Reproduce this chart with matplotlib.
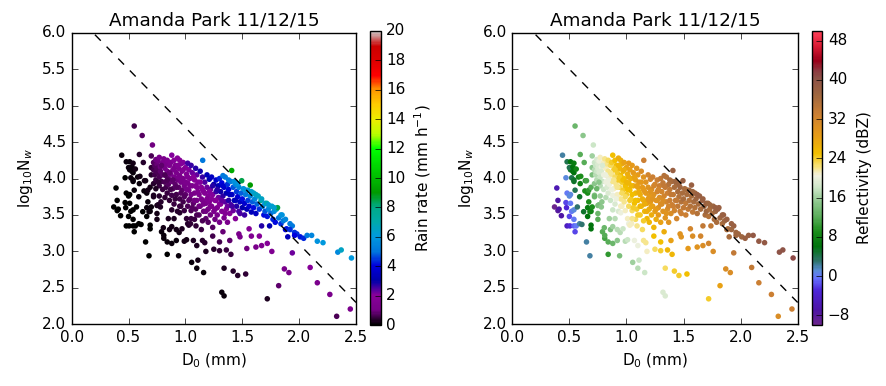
"""
Nw - D0 scatter, coloured by rain rate and reflectivity
"""

import matplotlib

matplotlib.use("Agg")
import matplotlib.pyplot as plt
from matplotlib.colors import LinearSegmentedColormap

# 数据：每个点 D0 (mm), log10 Nw, 雨强 (mm/h), 反射率 (dBZ)
d0 = [
    0.37, 0.40, 0.40, 0.39, 0.43, 0.41, 0.44, 0.47, 0.48, 0.48, 0.47, 0.48, 0.475, 0.50, 0.50, 0.505, 0.51, 0.51, 0.51, 0.51, 0.50,
    0.52, 0.52, 0.53, 0.53, 0.54, 0.54, 0.54, 0.54, 0.54, 0.54, 0.54, 0.55, 0.55, 0.55, 0.56, 0.56, 0.57, 0.58, 0.59, 0.59, 0.595, 0.595, 0.60, 0.61,
    0.62, 0.63, 0.625, 0.636, 0.64, 0.65, 0.65, 0.66, 0.66, 0.66, 0.67, 0.67, 0.68, 0.68, 0.69, 0.69, 0.69, 0.69, 0.70, 0.70, 0.70, 0.70, 0.71,
    0.72, 0.72, 0.72, 0.72, 0.72, 0.73, 0.73, 0.74, 0.74, 0.74, 0.75, 0.75, 0.75, 0.75, 0.75, 0.76, 0.76, 0.76, 0.77, 0.77, 0.77, 0.77, 0.78, 0.78, 0.785, 0.78, 0.79, 0.79, 0.80, 0.80, 0.80, 0.81, 0.81, 0.806,
    0.81, 0.82, 0.82, 0.82, 0.83, 0.83, 0.83, 0.84, 0.84, 0.84, 0.84, 0.84, 0.85, 0.85, 0.85, 0.86, 0.86, 0.86, 0.87, 0.87, 0.88, 0.88, 0.88, 0.88, 0.88, 0.88, 0.89, 0.89, 0.90, 0.90, 0.90,
    0.91, 0.91, 0.92, 0.92, 0.92, 0.92, 0.93, 0.93, 0.93, 0.94, 0.94, 0.945, 0.94, 0.95, 0.95, 0.95, 0.95, 0.96, 0.96, 0.96, 0.97, 0.97, 0.97, 0.98, 0.98, 0.98, 0.99, 0.99, 0.99, 1.00, 1.00,
    1.01, 1.01, 1.01, 1.02, 1.02, 1.02, 1.02, 1.03, 1.03, 1.03, 1.04, 1.045, 1.04, 1.05, 1.05, 1.055, 1.06, 1.06, 1.07, 1.07, 1.08, 1.08, 1.08, 1.09, 1.093, 1.09, 1.10, 1.10, 1.10, 1.10, 1.10,
    1.11, 1.11, 1.12, 1.12, 1.13, 1.13, 1.14, 1.14, 1.15, 1.15, 1.15, 1.152, 1.16, 1.16, 1.16, 1.17, 1.17, 1.18, 1.18, 1.18, 1.19, 1.19, 1.20, 1.20,
    1.21, 1.21, 1.22, 1.22, 1.23, 1.23, 1.24, 1.24, 1.24, 1.25, 1.25, 1.25, 1.26, 1.26, 1.27, 1.27, 1.28, 1.28, 1.29, 1.29, 1.30, 1.30, 1.30, 1.30,
    1.31, 1.31, 1.32, 1.32, 1.32, 1.33, 1.33, 1.34, 1.34, 1.34, 1.34, 1.35, 1.35, 1.36, 1.36, 1.36, 1.37, 1.37, 1.38, 1.38, 1.39, 1.39, 1.40, 1.40, 1.40,
    1.407, 1.41, 1.42, 1.42, 1.42, 1.43, 1.44, 1.44, 1.45, 1.45, 1.46, 1.46, 1.47, 1.47, 1.48, 1.48, 1.48, 1.49, 1.495, 1.50, 1.50,
    1.51, 1.52, 1.52, 1.53, 1.53, 1.54, 1.54, 1.55, 1.55, 1.56, 1.56, 1.57, 1.57, 1.58, 1.58, 1.59, 1.60, 1.60,
    1.61, 1.62, 1.62, 1.63, 1.64, 1.65, 1.65, 1.665, 1.67, 1.67, 1.68, 1.69, 1.70, 1.70,
    1.715, 1.72, 1.72, 1.72, 1.73, 1.74, 1.75, 1.76, 1.76, 1.77, 1.78, 1.79, 1.80, 1.81, 1.82, 1.82,
    1.84, 1.85, 1.86, 1.87, 1.88, 1.89, 1.90, 1.91, 1.92, 1.94, 1.94, 1.96, 1.98, 2.01, 2.04, 2.07, 2.097, 2.11, 2.16, 2.16, 2.21, 2.27, 2.33, 2.34, 2.37, 2.45, 2.46,
    1.33, 1.38, 1.43, 1.46, 1.52, 1.58, 1.62, 1.67, 1.73, 1.78, 1.84, 1.88, 1.92, 1.96,
    0.74, 0.76, 0.79, 0.82, 0.84, 0.86, 0.87, 0.89, 0.90, 0.91, 0.92, 0.93, 0.94, 0.96, 0.97, 0.98, 0.99, 1.00, 1.01, 1.02,
    1.03, 1.04, 1.05, 1.06, 1.07, 1.08, 1.09, 1.11, 1.12, 1.13, 1.14, 1.15, 1.16, 1.17, 1.18, 1.19, 1.21, 1.22, 1.23, 1.24,
    1.26, 1.27, 1.28, 1.30, 1.32, 1.33, 1.35, 1.37, 1.39, 1.41, 1.44, 1.47, 1.10, 1.05, 0.95, 0.90, 1.20, 1.15,
]
log_nw = [
    3.61, 3.70, 3.56, 3.87, 3.49, 3.58, 4.32, 4.01, 3.80, 4.23, 3.67, 3.35, 3.60, 3.76, 3.48, 3.35, 4.23, 3.78, 4.12, 3.66, 4.15,
    4.01, 3.55, 4.16, 4.10, 4.21, 4.08, 3.96, 3.44, 3.35, 3.57, 3.98, 3.84, 3.27, 4.72, 4.13, 3.35, 3.61, 4.02, 3.75, 3.38, 4.33, 3.93, 4.03, 3.37,
    4.59, 4.22, 3.545, 3.83, 3.97, 3.97, 3.13, 3.80, 3.60, 3.48, 3.68, 3.84, 3.545, 2.94, 3.88, 3.55, 3.31, 3.36, 3.61, 4.31, 4.15, 4.05, 4.46,
    4.22, 4.12, 3.93, 3.77, 3.75, 4.18, 4.05, 4.26, 4.10, 3.98, 4.20, 4.14, 3.63, 3.52, 3.44, 4.08, 3.64, 4.24, 3.76, 4.29, 4.02, 3.90, 4.16, 3.61, 3.68, 4.10, 3.27, 3.96, 4.22, 4.05, 3.85, 3.18, 3.22, 3.325,
    4.27, 4.14, 3.74, 3.95, 4.20, 4.04, 3.88, 4.25, 2.96, 3.13, 4.10, 3.80, 3.45, 4.00, 3.92, 4.18, 3.30, 3.70, 4.06, 4.22, 4.32, 3.77, 3.57, 3.34, 3.11, 3.96, 4.12, 3.86, 4.02, 4.25, 3.65,
    4.18, 3.92, 3.15, 3.30, 4.08, 3.78, 4.28, 3.98, 3.55, 4.14, 2.94, 3.26, 3.88, 4.25, 3.53, 4.04, 3.72, 4.20, 3.95, 3.62, 3.31, 4.10, 3.84, 4.22, 4.00, 3.68, 3.14, 3.90, 3.56, 4.15, 3.78,
    3.16, 3.45, 4.06, 3.38, 4.21, 3.94, 3.62, 3.36, 4.12, 3.84, 3.72, 3.38, 4.00, 4.18, 3.56, 2.85, 3.90, 4.08, 3.15, 3.66, 3.44, 3.98, 3.80, 4.14, 3.35, 3.58, 2.77, 3.08, 4.05, 3.88, 3.70,
    2.88, 3.95, 3.50, 3.78, 4.10, 3.62, 3.30, 3.88, 3.15, 4.02, 3.70, 4.25, 2.71, 3.55, 3.82, 3.12, 3.95, 3.00, 3.66, 3.45, 3.88, 4.05, 3.76, 3.58,
    3.99, 3.68, 3.50, 3.85, 4.02, 3.62, 3.33, 3.21, 3.78, 3.03, 3.92, 3.55, 3.70, 3.44, 3.98, 3.82, 3.60, 3.50, 3.90, 3.74, 3.13, 3.01, 4.00, 3.40,
    3.65, 3.82, 2.44, 3.94, 3.55, 3.27, 3.76, 2.39, 2.77, 3.88, 3.46, 3.68, 4.02, 3.02, 3.58, 3.80, 3.92, 3.40, 3.70, 3.85, 3.15, 3.52, 2.96, 3.96, 3.64,
    4.11, 3.78, 2.73, 3.88, 3.56, 3.70, 3.92, 3.45, 3.82, 3.62, 2.67, 3.75, 3.24, 3.88, 3.20, 3.52, 3.68, 3.80, 3.97, 3.60, 3.72,
    3.86, 3.66, 3.50, 2.69, 3.78, 3.04, 3.58, 3.84, 3.70, 3.31, 3.62, 3.91, 3.76, 3.21, 3.54, 3.68, 3.80, 3.60,
    3.72, 3.06, 3.52, 3.65, 3.76, 3.21, 3.58, 3.70, 3.08, 3.35, 3.62, 3.50, 3.66, 3.55,
    3.66, 3.11, 2.35, 3.48, 3.58, 3.35, 3.52, 3.00, 3.62, 3.44, 3.55, 3.40, 3.58, 3.60, 2.53, 3.46,
    3.38, 3.50, 3.42, 2.76, 3.30, 3.31, 3.20, 2.71, 3.38, 2.98, 3.35, 3.26, 3.24, 3.20, 3.18, 3.22, 2.78, 3.22, 3.14, 2.57, 3.12, 2.41, 2.11, 2.99, 3.02, 2.21, 2.91,
    4.04, 3.98, 3.96, 3.93, 3.85, 3.82, 3.78, 3.72, 3.64, 3.60, 3.50, 3.44, 3.30, 3.22,
    3.86, 3.95, 4.18, 4.05, 3.98, 4.08, 3.85, 3.98, 4.14, 3.72, 3.88, 4.18, 4.02, 3.80, 3.98, 4.12, 3.75, 3.95, 3.85, 4.02,
    3.70, 3.90, 3.78, 3.60, 4.02, 3.70, 3.90, 3.82, 3.62, 3.95, 3.72, 3.85, 3.65, 3.80, 3.55, 3.72, 3.82, 3.62, 3.72, 3.90,
    3.58, 3.70, 3.85, 3.65, 3.70, 3.90, 3.52, 3.62, 3.78, 3.62, 3.70, 3.55, 3.50, 3.45, 3.62, 3.45, 3.40, 3.42,
]
rain_rate = [
    0.01, 0.02, 0.01, 0.02, 0.01, 0.01, 0.09, 0.06, 0.04, 0.11, 0.03, 0.01, 0.03, 0.04, 0.02, 0.02, 0.14, 0.05, 0.11, 0.04, 0.11,
    0.09, 0.03, 0.14, 0.12, 0.17, 0.13, 0.10, 0.03, 0.02, 0.04, 0.10, 0.08, 0.02, 0.60, 0.17, 0.03, 0.05, 0.15, 0.09, 0.04, 0.34, 0.13, 0.18, 0.04,
    0.74, 0.32, 0.07, 0.14, 0.20, 0.21, 0.03, 0.15, 0.10, 0.07, 0.13, 0.18, 0.10, 0.02, 0.22, 0.10, 0.06, 0.06, 0.13, 0.65, 0.45, 0.35, 0.98,
    0.77, 0.61, 0.39, 0.27, 0.26, 0.75, 0.56, 0.94, 0.65, 0.49, 0.88, 0.77, 0.23, 0.18, 0.16, 0.70, 0.25, 1.01, 0.35, 1.18, 0.64, 0.48, 0.94, 0.26, 0.33, 0.82, 0.13, 0.62, 1.18, 0.81, 0.51, 0.12, 0.13, 0.16,
    1.32, 1.02, 0.41, 0.66, 1.20, 0.85, 0.59, 1.44, 0.07, 0.11, 1.02, 0.52, 0.24, 0.85, 0.71, 1.34, 0.18, 0.44, 1.09, 1.56, 2.04, 0.59, 0.37, 0.22, 0.13, 0.91, 1.38, 0.76, 1.14, 1.92, 0.49,
    1.45, 0.79, 0.14, 0.20, 1.20, 0.60, 2.00, 1.00, 0.37, 1.50, 0.10, 0.20, 0.83, 2.00, 0.39, 1.26, 0.60, 1.90, 1.07, 0.50, 0.25, 1.55, 0.85, 2.10, 1.30, 0.62, 0.19, 1.07, 0.49, 2.00, 0.85,
    0.21, 0.42, 1.70, 0.37, 2.50, 1.35, 0.65, 0.36, 2.10, 1.10, 0.87, 0.41, 1.66, 2.60, 0.63, 0.13, 1.45, 2.20, 0.26, 0.85, 0.54, 1.86, 1.23, 2.80, 0.46, 0.78, 0.12, 0.25, 2.30, 1.60, 1.05,
    0.17, 1.95, 0.72, 1.38, 2.95, 0.98, 0.49, 1.86, 0.35, 2.60, 1.26, 5.00, 0.13, 0.93, 1.74, 0.36, 2.45, 0.28, 1.29, 0.79, 2.20, 3.30, 1.74, 1.15,
    3.10, 1.50, 1.00, 2.30, 3.50, 1.40, 0.74, 0.56, 2.10, 0.39, 3.00, 1.30, 1.86, 1.00, 3.70, 2.60, 1.60, 1.26, 3.20, 2.20, 0.58, 0.44, 4.30, 1.07,
    1.95, 2.90, 0.13, 4.00, 1.60, 0.87, 2.70, 0.12, 0.28, 3.60, 1.38, 2.40, 5.20, 0.54, 1.95, 3.20, 4.40, 1.30, 2.75, 3.90, 0.79, 1.86, 0.52, 5.20, 2.50,
    9.50, 3.60, 0.33, 4.70, 2.20, 3.20, 5.50, 1.86, 4.50, 2.80, 0.32, 3.90, 1.23, 5.40, 1.17, 2.45, 3.50, 4.80, 8.50, 3.10, 4.10,
    5.80, 3.70, 2.60, 0.42, 5.10, 0.95, 3.30, 6.20, 4.50, 1.86, 3.80, 9.00, 5.40, 1.55, 3.30, 4.80, 6.50, 4.10,
    5.50, 1.23, 3.50, 4.90, 6.50, 1.86, 4.40, 7.50, 1.48, 2.75, 5.20, 4.10, 6.00, 4.70,
    7.00, 1.80, 0.31, 4.20, 5.40, 3.20, 4.90, 1.50, 6.30, 4.30, 5.60, 4.10, 6.30, 8.50, 0.80, 5.00,
    4.40, 5.90, 5.00, 1.10, 4.00, 4.20, 3.30, 1.10, 5.20, 2.20, 5.10, 4.40, 4.40, 4.20, 4.30, 5.00, 1.90, 5.40, 5.80, 1.30, 6.00, 1.15, 0.63, 5.50, 6.50, 1.30, 6.00,
    5.10, 5.20, 5.80, 5.90, 5.80, 6.30, 6.50, 6.50, 6.20, 6.30, 5.80, 5.50, 4.40, 4.00,
    0.29, 0.40, 0.79, 0.69, 0.65, 0.89, 0.56, 0.83, 1.26, 0.50, 0.76, 1.58, 1.15, 0.76, 1.17, 1.70, 0.76, 1.26, 1.05, 1.60,
    0.79, 1.30, 1.05, 0.72, 1.95, 0.98, 1.60, 1.45, 0.95, 2.10, 1.30, 1.80, 1.17, 1.74, 1.00, 1.55, 2.10, 1.35, 1.80, 2.75,
    1.40, 1.95, 2.80, 1.90, 2.30, 3.70, 1.66, 2.20, 3.40, 2.50, 3.30, 2.50, 0.66, 0.49, 0.48, 0.26, 0.76, 0.66,
]
dbz = [
    -10, -7, -8, -6, -7, -7, 2, 1, 0, 4, -2, -5, -3, 1, -2, -3, 6, 1, 5, 0, 4,
    4, 0, 6, 6, 7, 6, 5, 0, -1, 1, 5, 4, -2, 13, 8, 0, 3, 8, 5, 2, 12, 8, 9, 3,
    15, 12, 5, 9, 10, 11, 2, 9, 7, 6, 9, 10, 8, 2, 12, 8, 6, 6, 9, 16, 15, 14, 18,
    18, 17, 15, 14, 13, 18, 17, 19, 18, 17, 19, 19, 14, 13, 12, 19, 14, 20, 16, 21, 18, 17, 20, 15, 15, 19, 12, 18, 21, 20, 18, 11, 12, 13,
    22, 21, 17, 20, 22, 21, 19, 23, 10, 12, 22, 19, 16, 21, 20, 23, 14, 18, 22, 24, 25, 20, 18, 16, 13, 22, 24, 21, 23, 25, 19,
    25, 22, 15, 17, 24, 21, 27, 24, 19, 26, 14, 17, 23, 27, 20, 25, 22, 27, 24, 21, 18, 26, 24, 28, 25, 22, 17, 25, 21, 28, 24,
    18, 21, 27, 20, 29, 26, 23, 21, 28, 25, 24, 21, 27, 29, 23, 16, 27, 29, 20, 25, 23, 28, 26, 30, 22, 24, 17, 20, 29, 28, 26,
    18, 29, 24, 27, 31, 26, 23, 29, 22, 30, 27, 33, 18, 26, 29, 22, 30, 21, 28, 26, 30, 32, 29, 27,
    32, 29, 27, 31, 33, 29, 26, 25, 30, 23, 32, 28, 30, 27, 33, 32, 30, 29, 33, 31, 25, 24, 34, 28,
    31, 32, 19, 34, 30, 27, 32, 19, 23, 34, 30, 32, 35, 26, 31, 33, 35, 30, 33, 34, 28, 31, 26, 36, 33,
    38, 34, 24, 36, 32, 34, 36, 32, 36, 34, 24, 35, 30, 37, 30, 33, 35, 36, 38, 34, 36,
    36, 34, 33, 25, 36, 29, 34, 37, 35, 32, 35, 38, 36, 31, 34, 36, 37, 35,
    37, 30, 35, 36, 38, 32, 36, 38, 31, 34, 37, 36, 38, 37,
    37, 32, 24, 35, 36, 34, 36, 31, 37, 36, 37, 36, 38, 38, 28, 37,
    36, 38, 37, 31, 36, 36, 36, 31, 38, 34, 38, 37, 37, 37, 38, 38, 34, 39, 39, 33, 39, 33, 31, 40, 40, 33, 41,
    35, 36, 37, 37, 36, 37, 38, 38, 37, 38, 38, 38, 37, 37,
    13, 15, 19, 20, 20, 22, 20, 22, 24, 20, 22, 26, 24, 23, 25, 27, 23, 26, 25, 27,
    24, 26, 25, 24, 28, 25, 28, 27, 26, 29, 27, 29, 27, 29, 27, 29, 30, 28, 30, 32,
    29, 30, 32, 31, 31, 34, 30, 32, 34, 33, 34, 33, 24, 22, 21, 17, 26, 24,
]

# 虚线 (端点)
line_d0 = [0.0, 2.5]
line_nw = [6.3, 2.3]

rr_ticks = list(range(0, 21, 2))
dbz_ticks = list(range(-8, 49, 8))

# 反射率色标
refl_colors = [
    (-10, (0.42, 0.15, 0.55)),
    (-7, (0.30, 0.08, 0.65)),
    (-3, (0.30, 0.15, 0.85)),
    (-0.5, (0.40, 0.45, 1.00)),
    (1, (0.35, 0.55, 0.85)),
    (3, (0.18, 0.45, 0.42)),
    (6, (0.00, 0.45, 0.05)),
    (9, (0.10, 0.55, 0.10)),
    (12, (0.35, 0.68, 0.35)),
    (15, (0.55, 0.78, 0.55)),
    (18, (0.80, 0.90, 0.78)),
    (20.5, (0.95, 0.95, 0.88)),
    (22.5, (0.97, 0.88, 0.45)),
    (25, (0.95, 0.75, 0.00)),
    (29, (0.90, 0.60, 0.10)),
    (33, (0.80, 0.50, 0.20)),
    (37, (0.62, 0.40, 0.25)),
    (40.5, (0.55, 0.32, 0.28)),
    (42, (0.55, 0.22, 0.25)),
    (44, (0.60, 0.00, 0.10)),
    (47, (0.85, 0.10, 0.20)),
    (50, (1.00, 0.25, 0.35)),
]
refl_cmap = LinearSegmentedColormap.from_list(
    "refl", [((v + 10) / 60.0, c) for v, c in refl_colors]
)

plt.style.use("classic")
plt.rcParams.update(
    {
        "figure.facecolor": "white",
        "savefig.facecolor": "white",
        "font.family": ["DejaVu Sans"],
        "font.size": 11,
        "mathtext.fontset": "dejavusans",
    }
)

fig = plt.figure(figsize=(8.86, 3.86), dpi=100)

panels = [
    {
        "ax": [0.0809, 0.1598, 0.3209, 0.7554],
        "cax": [0.4176, 0.158, 0.0121, 0.7617],
        "c": rain_rate,
        "cmap": "nipy_spectral",
        "vmin": 0,
        "vmax": 20,
        "ticks": rr_ticks,
        "label": "Rain rate (mm h$^{-1}$)",
    },
    {
        "ax": [0.5782, 0.1598, 0.3221, 0.7554],
        "cax": [0.9170, 0.158, 0.0110, 0.7617],
        "c": dbz,
        "cmap": refl_cmap,
        "vmin": -10,
        "vmax": 50,
        "ticks": dbz_ticks,
        "label": "Reflectivity (dBZ)",
    },
]

for p in panels:
    ax = fig.add_axes(p["ax"])
    sc = ax.scatter(
        d0,
        log_nw,
        c=p["c"],
        cmap=p["cmap"],
        vmin=p["vmin"],
        vmax=p["vmax"],
        s=16,
        lw=0,
    )
    ax.plot(line_d0, line_nw, "k--", lw=1)
    ax.set_xlim(0, 2.5)
    ax.set_ylim(2.0, 6.0)
    ax.set_xticks([0.0, 0.5, 1.0, 1.5, 2.0, 2.5])
    ax.set_yticks([2.0, 2.5, 3.0, 3.5, 4.0, 4.5, 5.0, 5.5, 6.0])
    ax.set_xticklabels(["0.0", "0.5", "1.0", "1.5", "2.0", "2.5"])
    ax.set_yticklabels(["2.0", "2.5", "3.0", "3.5", "4.0", "4.5", "5.0", "5.5", "6.0"])
    ax.set_xlabel("D$_0$ (mm)")
    ax.set_ylabel("log$_{10}$N$_w$")
    ax.set_title("Amanda Park 11/12/15", fontsize=13.2)

    cax = fig.add_axes(p["cax"])
    cb = fig.colorbar(sc, cax=cax, ticks=p["ticks"])
    cb.set_label(p["label"])

fig.savefig("out.png", dpi=100)
